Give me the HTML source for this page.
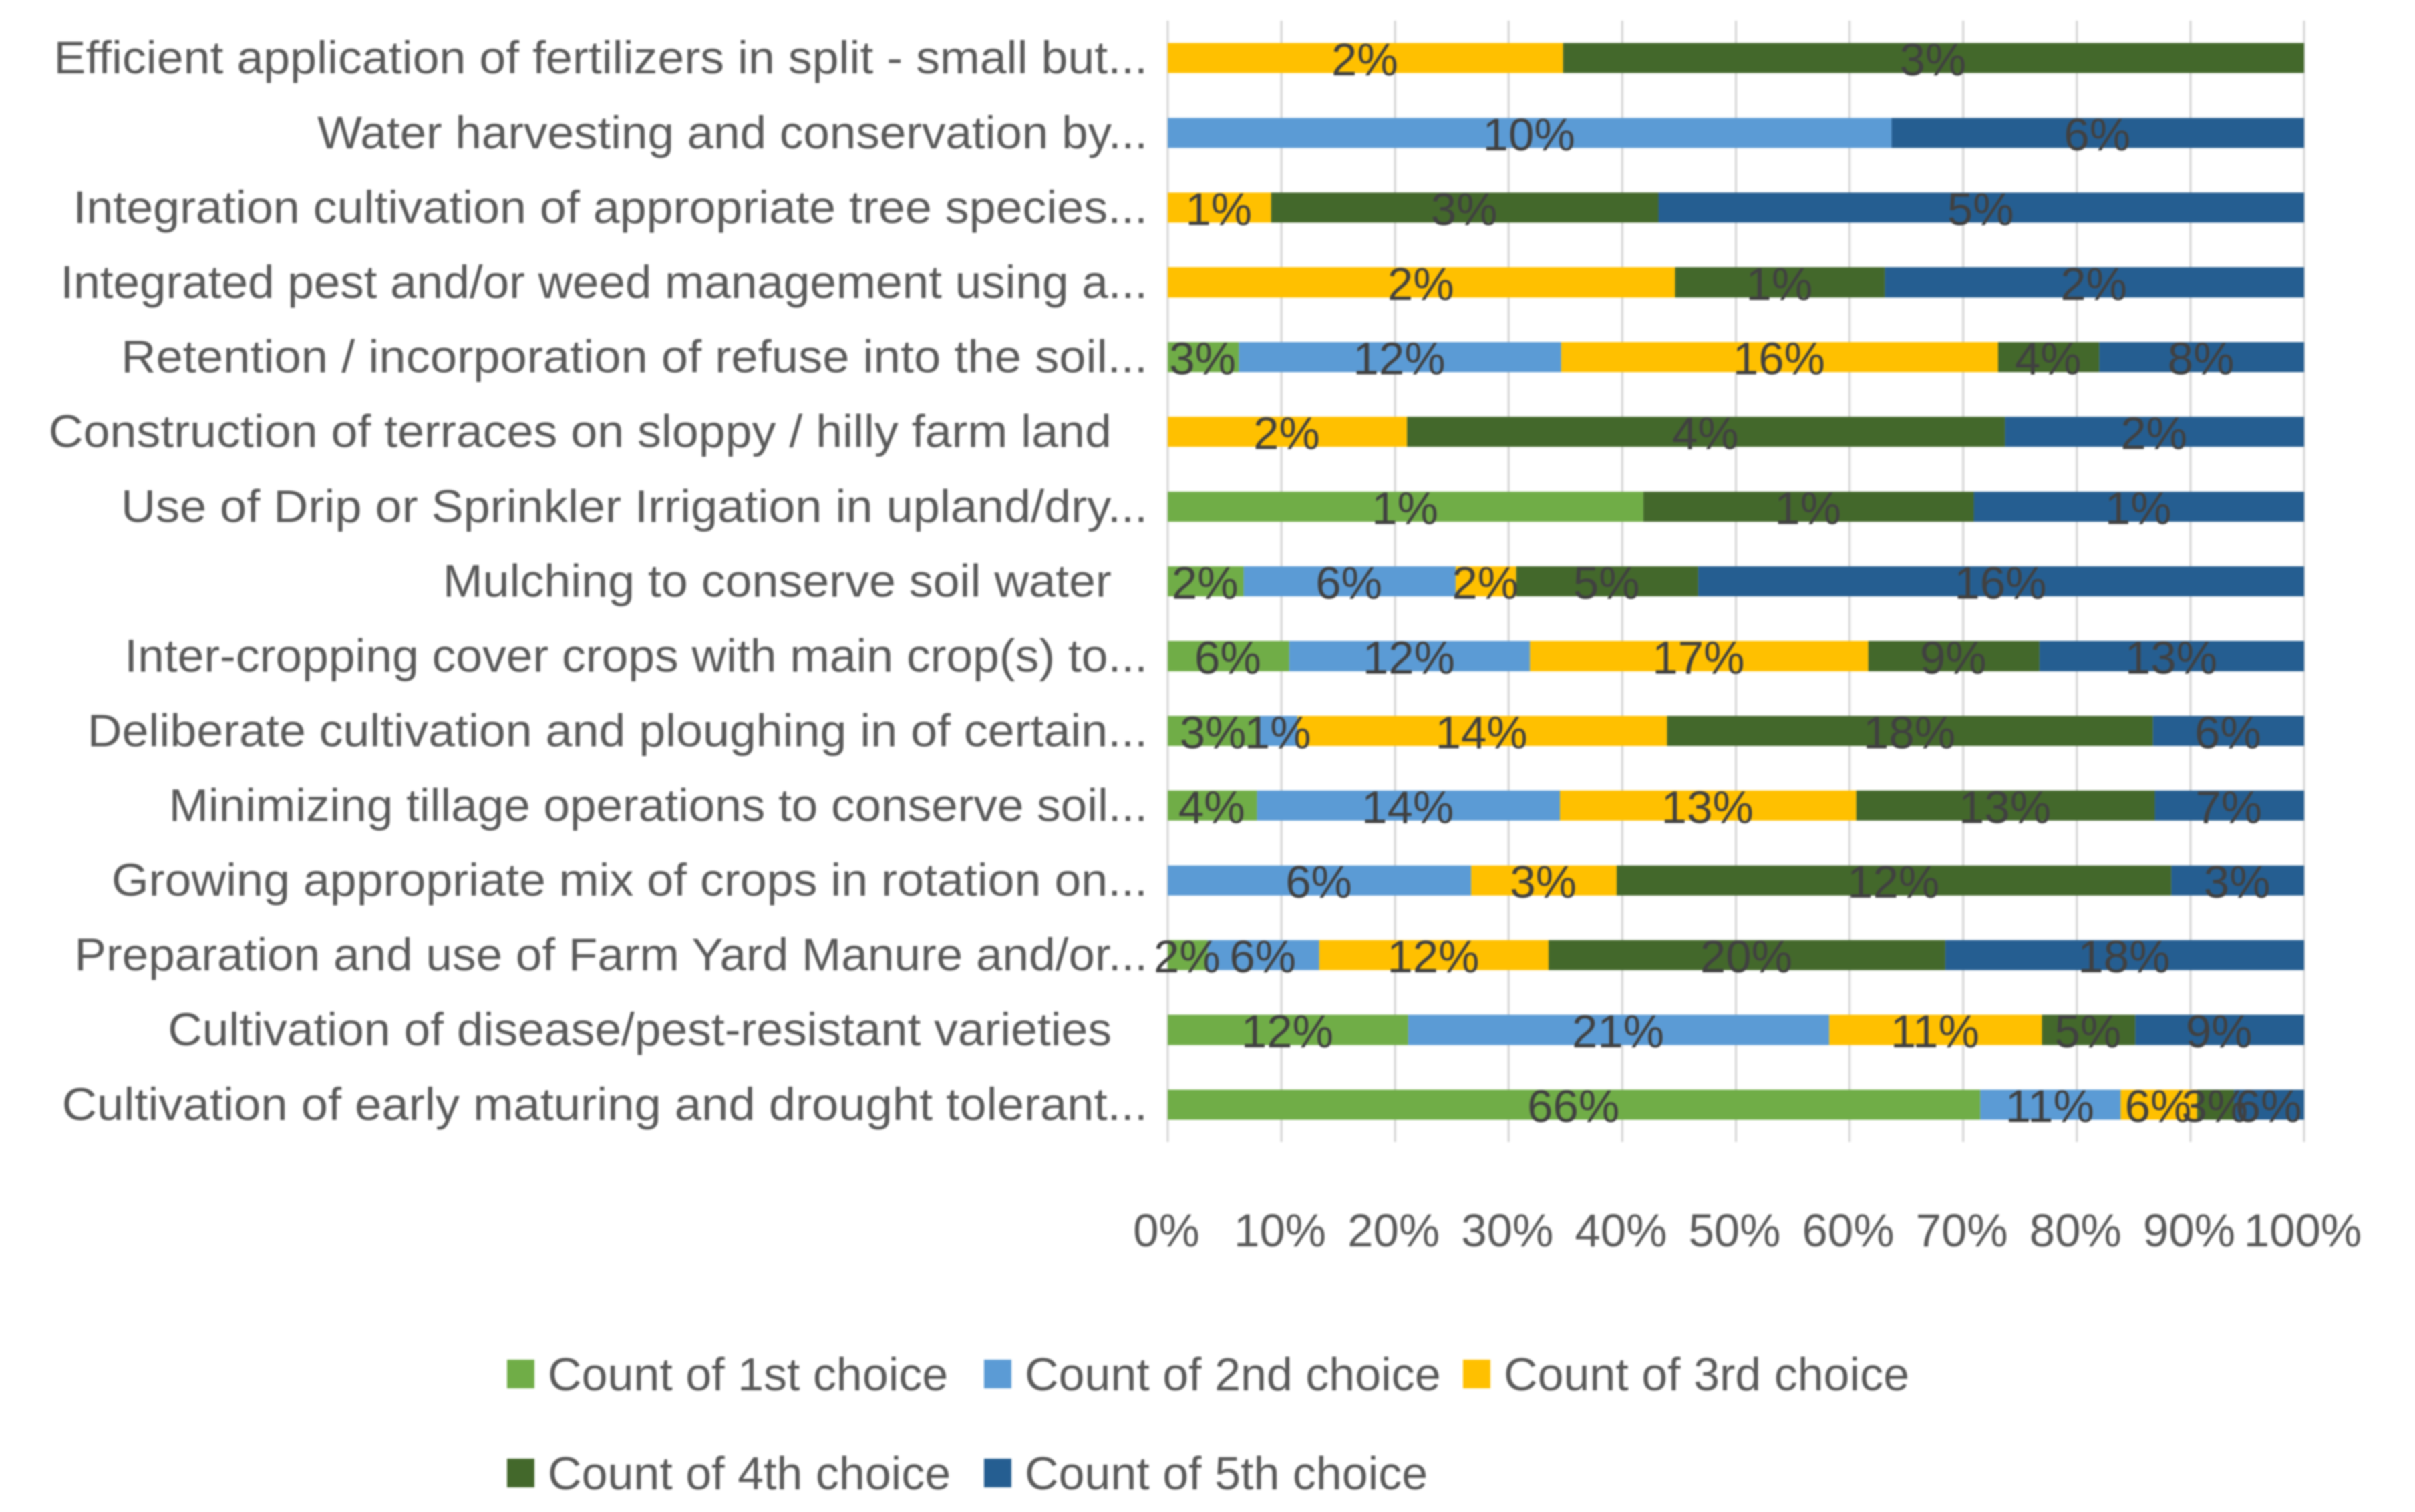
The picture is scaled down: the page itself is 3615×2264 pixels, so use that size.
<!DOCTYPE html>
<html>
<head>
<meta charset="utf-8">
<title>Choice counts by practice</title>
<style>
html,body{margin:0;padding:0;background:#fff;}
svg{display:block;filter:blur(1.2px);}
text{font-family:"Liberation Sans",sans-serif;white-space:pre;}
</style>
</head>
<body>
<svg id="chart" xmlns="http://www.w3.org/2000/svg" width="3615" height="2264" viewBox="0 0 3615 2264">
<rect x="0" y="0" width="3615" height="2264" fill="#ffffff"/>
</svg>
<script>
const categories = [
  "Efficient application of fertilizers in split - small but...",
  "Water harvesting and conservation by...",
  "Integration cultivation of appropriate tree species...",
  "Integrated pest and/or weed management using a...",
  "Retention / incorporation of refuse into the soil...",
  "Construction of terraces on sloppy / hilly farm land  \u2009",
  "Use of Drip or Sprinkler Irrigation in upland/dry...",
  "Mulching to conserve soil water  \u2009",
  "Inter-cropping cover crops with main crop(s) to...",
  "Deliberate cultivation and ploughing in of certain...",
  "Minimizing tillage operations to conserve soil...",
  "Growing appropriate mix of crops in rotation on...",
  "Preparation and use of Farm Yard Manure and/or...",
  "Cultivation of disease/pest-resistant varieties  \u2009",
  "Cultivation of early maturing and drought tolerant..."
];
const firstChoice  = [0,0,0,0,2.6,0,1.44,2.0,6.1,3.4,4.0,0,2.0,12.1,66];
const secondChoice = [0,10,0,0,11.8,0,0,5.6,12.1,1.4,13.6,6.4,5.6,21.2,11.4];
const thirdChoice  = [1.6,0,0.8,2.42,16,1.6,0,1.6,17,13.7,13.3,3.07,11.5,10.7,6.2];
const fourthChoice = [3,0,3,1,3.7,4,1,4.8,8.6,18,13.4,11.7,19.9,4.7,3];
const fifthChoice  = [0,5.7,5,2,7.5,2,1,16,13.3,5.6,6.7,2.8,18,8.5,5.7];
const seriesNames  = ["Count of 1st choice","Count of 2nd choice","Count of 3rd choice","Count of 4th choice","Count of 5th choice"];
const seriesColors = ["#70AD47","#5B9BD5","#FFC000","#43682B","#255E91"];
const tickValues   = [0,10,20,30,40,50,60,70,80,90,100];

const allSeries = [firstChoice, secondChoice, thirdChoice, fourthChoice, fifthChoice];
const svg = document.getElementById('chart');
const NS = 'http://www.w3.org/2000/svg';
const plotLeft = 1748, plotRight = 3449, plotTop = 31, plotBottom = 1710;
const fontSize = 69;
const barHeight = 45;
const categoryStretch = [1.04,1.029,1.041,1.03,1.049,1.04,1.045,1.04,1.035,1.04,1.03,1.04,1.031,1.035,1.049];
const bandHeight = (plotBottom - plotTop) / categories.length;

function xScale(pct){ return plotLeft + (plotRight - plotLeft) * pct / 100; }
function yCenter(i){ return plotTop + bandHeight * (i + 0.5); }
function make(tag, props, parent){
  const el = document.createElementNS(NS, tag);
  for (const k in props) el.setAttribute(k, props[k]);
  (parent || svg).appendChild(el);
  return el;
}

const gridGroup = make('g', {});


tickValues.forEach(function(t){
  const line = make('line', {x1:xScale(t), x2:xScale(t), y1:plotTop, y2:plotBottom, stroke:'#D9D9D9', 'stroke-width':3.5}, gridGroup);
  
  
});

const barGroup = make('g', {});


const labelGroup = make('g', {});



categories.forEach(function(name, i){
  const total = allSeries.reduce(function(s, a){ return s + a[i]; }, 0);
  let cum = 0;
  allSeries.forEach(function(series, s){
    const v = series[i];
    if (!v) return;
    const start = cum / total * 100;
    cum += v;
    const end = cum / total * 100;
    const rect = make('rect', {x:xScale(start), y:yCenter(i) - barHeight / 2, width:xScale(end) - xScale(start), height:barHeight, fill:seriesColors[s]}, barGroup);
    
    
    const label = make('text', {x:(xScale(start) + xScale(end)) / 2 - 1, y:yCenter(i) + 26, 'font-size':fontSize, fill:'#404040', 'text-anchor':'middle'}, labelGroup);
    
    
    label.textContent = Math.round(v) + '%';
  });
  const cat = make('text', {x:0, y:0, transform:'translate(1718,' + (yCenter(i) + 23) + ') scale(' + categoryStretch[i] + ',1)', 'font-size':fontSize, fill:'#595959', 'text-anchor':'end'});
  
  
  cat.textContent = name;
});

tickValues.forEach(function(t){
  const tick = make('text', {x:xScale(t) - 2, y:1866, 'font-size':fontSize, fill:'#595959', 'text-anchor':'middle'});
  
  
  tick.textContent = t + '%';
});

const legendX = [759, 1473, 2190, 759, 1473];
const legendY = [2034, 2034, 2034, 2182, 2182];
seriesNames.forEach(function(name, i){
  const g = make('g', {});
  
  
  const swatch = make('rect', {x:legendX[i], y:legendY[i] + 2, width:41, height:43, fill:seriesColors[i]}, g);
  
  
  const txt = make('text', {x:legendX[i] + 61, y:legendY[i] + 48, 'font-size':70, fill:'#595959'}, g);
  
  
  txt.textContent = name;
});
</script>
</body>
</html>
